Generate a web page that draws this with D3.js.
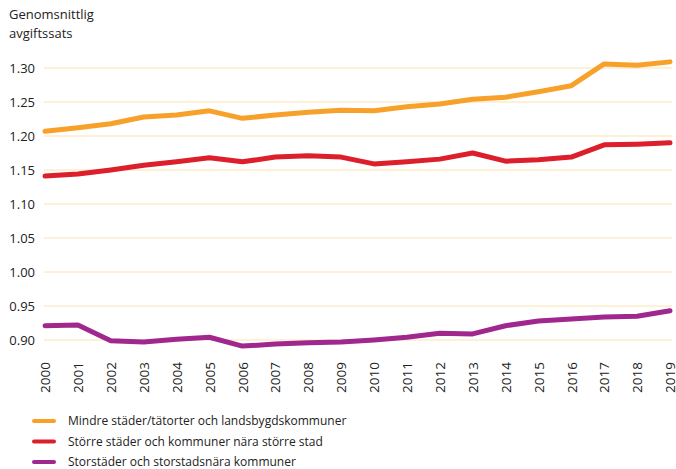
<!DOCTYPE html>
<html>
<head>
<meta charset="utf-8">
<script src="https://cdn.jsdelivr.net/npm/d3@7"></script>
<style>
  body { margin: 0; background: #fff; }
  svg { font-family: "Open Sans", "Noto Sans", sans-serif; }
</style>
</head>
<body>
<svg id="chart"></svg>
<script>
// Data
const years = d3.range(2000, 2020);
const mindre = [1.207, 1.212, 1.218, 1.228, 1.231, 1.237, 1.226, 1.231, 1.235, 1.238,
                1.237, 1.243, 1.247, 1.254, 1.257, 1.265, 1.274, 1.306, 1.304, 1.309];
const storre = [1.141, 1.144, 1.150, 1.157, 1.162, 1.168, 1.162, 1.169, 1.171, 1.169,
                1.159, 1.162, 1.166, 1.175, 1.163, 1.165, 1.169, 1.187, 1.188, 1.190];
const storstad = [0.921, 0.922, 0.899, 0.897, 0.901, 0.904, 0.891, 0.894, 0.896, 0.897,
                  0.900, 0.904, 0.910, 0.909, 0.921, 0.928, 0.931, 0.934, 0.935, 0.943];
const yTicks = [0.90, 0.95, 1.00, 1.05, 1.10, 1.15, 1.20, 1.25, 1.30];
const seriesNames = [
  "Mindre städer/tätorter och landsbygdskommuner",
  "Större städer och kommuner nära större stad",
  "Storstäder och storstadsnära kommuner"
];
const colors = ["#f7a12b", "#dc1f2a", "#a0278e"];

const width = 676;
const height = 469;

const svg = d3.select("#chart").attr("width", width).attr("height", height);

const xScale = d3.scaleLinear().domain([2000, 2019]).range([45, 670]);
const yScale = d3.scaleLinear().domain([0.90, 1.30]).range([340, 68]);

// Gridlines
svg.append("g")
  .selectAll("line")
  .data(yTicks)
  .join("line")
  .attr("x1", 44)
  .attr("x2", 672)
  .attr("y1", (d) => yScale(d))
  .attr("y2", (d) => yScale(d))
  .attr("stroke", "#fde2ad")
  .attr("stroke-width", 1);

// Y axis labels
const yAxis = d3.axisLeft(yScale).tickValues(yTicks).tickFormat(d3.format(".2f")).tickSize(0).tickPadding(0);
const yAxisGroup = svg.append("g").attr("transform", "translate(35,0)").call(yAxis);
yAxisGroup.select(".domain").remove();
yAxisGroup.selectAll("text").attr("font-size", 13).attr("fill", "#222").attr("font-family", "Open Sans, sans-serif");

// X axis labels (rotated)
const xAxis = d3.axisBottom(xScale).tickValues(years).tickFormat(d3.format("d")).tickSize(0).tickPadding(0);
const xAxisGroup = svg.append("g").attr("transform", "translate(0,362)").call(xAxis);
xAxisGroup.select(".domain").remove();
xAxisGroup.selectAll("text")
  .attr("font-size", 13.5)
  .attr("fill", "#222")
  .attr("font-family", "Open Sans, sans-serif")
  .attr("transform", "rotate(-90)")
  .attr("text-anchor", "end")
  .attr("x", 0)
  .attr("y", 0)
  .attr("dy", "0.35em");

// Title
svg.append("text").attr("x", 9).attr("y", 19).attr("font-size", 13).attr("fill", "#222").text("Genomsnittlig");
svg.append("text").attr("x", 9).attr("y", 38).attr("font-size", 13).attr("fill", "#222").text("avgiftssats");

// Lines
const line = d3.line()
  .x((d, i) => xScale(years[i]))
  .y((d) => yScale(d));

[mindre, storre, storstad].forEach((s, i) => {
  svg.append("path")
    .datum(s)
    .attr("fill", "none")
    .attr("stroke", colors[i])
    .attr("stroke-width", 5)
    .attr("stroke-linejoin", "round")
    .attr("stroke-linecap", "round")
    .attr("d", line);
});

// Legend
const legend = svg.append("g");
seriesNames.forEach((name, i) => {
  const y = 421 + i * 20.5;
  legend.append("line")
    .attr("x1", 34).attr("x2", 54)
    .attr("y1", y).attr("y2", y)
    .attr("stroke", colors[i])
    .attr("stroke-width", 4)
    .attr("stroke-linecap", "round");
  legend.append("text")
    .attr("x", 68).attr("y", y)
    .attr("dy", "0.35em")
    .attr("font-size", 12)
    .attr("fill", "#222")
    .text(name);
});
</script>
</body>
</html>
